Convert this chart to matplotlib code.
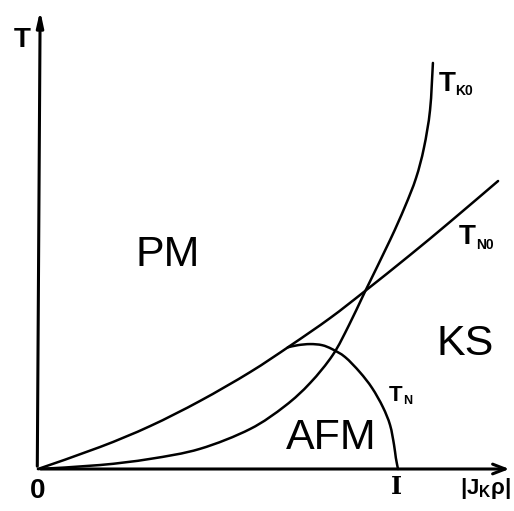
import matplotlib
matplotlib.use('Agg')
import matplotlib.pyplot as plt
import numpy as np
from matplotlib.path import Path
from matplotlib.patches import PathPatch

# Doniach phase diagram, |J_K rho| scaled so the critical point I = 1
tk0_x = [0, 0.172, 0.311, 0.450, 0.589, 0.686, 0.756, 0.819, 0.864, 0.908,
         0.978, 1.019, 1.050, 1.072, 1.089, 1.097]
tk0_y = [0, 0.011, 0.028, 0.056, 0.111, 0.175, 0.239, 0.317, 0.400, 0.492,
         0.636, 0.728, 0.808, 0.892, 0.997, 1.128]

tn0_x = [0, 0.172, 0.311, 0.450, 0.589, 0.700, 0.811, 0.908, 1.033, 1.144, 1.278]
tn0_y = [0, 0.061, 0.119, 0.189, 0.269, 0.342, 0.419, 0.494, 0.594, 0.686, 0.800]

tn_x = [0.694, 0.722, 0.756, 0.789, 0.817, 0.853, 0.894, 0.928, 0.958, 0.978, 0.989, 0.994, 1.0]
tn_y = [0.338, 0.344, 0.347, 0.344, 0.333, 0.311, 0.269, 0.225, 0.172, 0.122, 0.067, 0.031, 0]

regions = ['PM', 'KS', 'AFM']
region_pos = [(0.361, 0.594), (1.186, 0.347), (0.814, 0.086)]


def smooth_path(xs, ys):
    # cubic bezier through the points (catmull-rom tangents)
    pts = np.column_stack([xs, ys])
    verts = [pts[0]]
    codes = [Path.MOVETO]
    n = len(pts)
    for i in range(n - 1):
        p0 = pts[i - 1] if i > 0 else pts[i]
        p1, p2 = pts[i], pts[i + 1]
        p3 = pts[i + 2] if i + 2 < n else pts[i + 1]
        verts += [p1 + (p2 - p0) / 6, p2 - (p3 - p1) / 6, p2]
        codes += [Path.CURVE4] * 3
    return Path(verts, codes)


fig = plt.figure(figsize=(5.14, 5.11), dpi=100)
ax = fig.add_axes([0, 0, 1, 1])
ax.set_xlim(-38 / 360, 476 / 360)
ax.set_ylim(-42 / 360, 469 / 360)
ax.axis('off')

# axes with arrows
ax.annotate('', xy=(1.317, 0), xytext=(0, 0),
            arrowprops=dict(arrowstyle='->,head_length=0.9,head_width=0.35', lw=2.2, color='black'))
ax.annotate('', xy=(0.006, 1.281), xytext=(-0.002, 0),
            arrowprops=dict(arrowstyle='-|>,head_length=0.9,head_width=0.2', lw=2.2, color='black'))

for xs, ys in [(tk0_x, tk0_y), (tn0_x, tn0_y), (tn_x, tn_y)]:
    ax.add_patch(PathPatch(smooth_path(xs, ys), fill=False, lw=1.8,
                           edgecolor='black', capstyle='round'))

for name, (x, y) in zip(regions, region_pos):
    ax.text(x, y, name, fontsize=31, family='Liberation Sans', ha='center', va='center')


# curve labels: big T with small subscript at its lower right corner
def t_label(x, y, sub, size=20, subsize=10):
    t = ax.text(x, y, 'T', fontsize=size, family='Liberation Sans', fontweight='bold',
                ha='left', va='top')
    ax.annotate(sub, xy=(1, 0), xycoords=t, xytext=(0, -1), textcoords='offset points',
                fontsize=subsize, family='Liberation Sans', fontweight='bold',
                ha='left', va='bottom')


t_label(1.112, 1.106, 'K0')
t_label(1.170, 0.680, 'N0')
t_label(0.975, 0.234, 'N', size=16, subsize=9)

ax.text(-0.044, 1.192, 'T', fontsize=20, family='Liberation Sans', fontweight='bold',
        ha='center', va='center')
ax.text(0, -0.061, '0', fontsize=20, family='Liberation Sans', fontweight='bold',
        ha='center', va='center')
ax.text(0.997, -0.05, 'I', fontsize=17, family='DejaVu Serif', fontweight='bold',
        ha='center', va='center')
ax.text(1.242, -0.053, r'|J$_{\mathregular{K}}$ρ|', fontsize=16, family='Liberation Sans',
        fontweight='bold', ha='center', va='center')

fig.savefig('out.png', dpi=100)
